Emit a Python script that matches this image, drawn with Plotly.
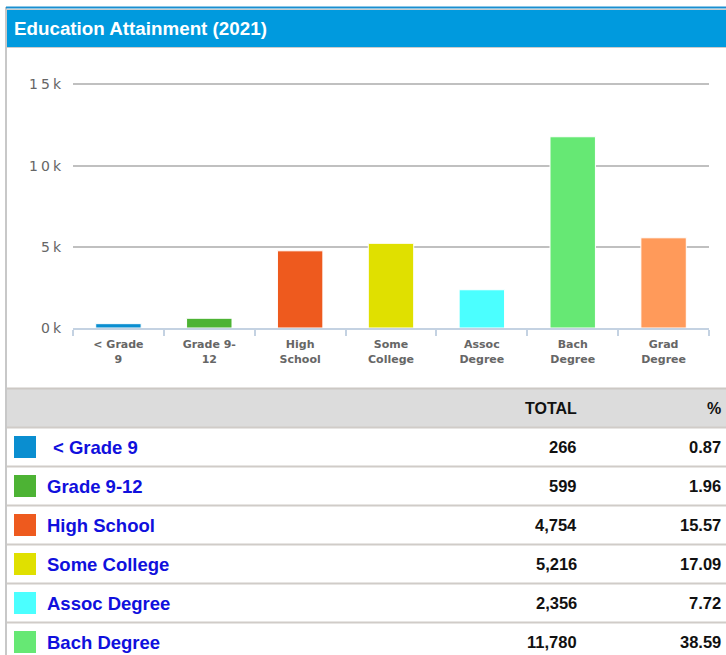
import plotly.graph_objects as go

W, H = 726, 655

# data
categories = ["< Grade 9", "Grade 9-12", "High School", "Some College",
              "Assoc Degree", "Bach Degree", "Grad Degree"]
axis_labels = ["< Grade<br>9", "Grade 9-<br>12", "High<br>School", "Some<br>College",
               "Assoc<br>Degree", "Bach<br>Degree", "Grad<br>Degree"]
totals = [266, 599, 4754, 5216, 2356, 11780, 5555]
percents = [0.87, 1.96, 15.57, 17.09, 7.72, 38.59, 18.20]
colors = ["#0A8ED0", "#4DB334", "#EE5A1E", "#E0E000", "#4BFFFF", "#66E874", "#FF9A5A"]
y_ticks = [0, 5000, 10000, 15000]
y_tick_text = ["0k", "5k", "10k", "15k"]


def px(x):
    return x / W


def py(y):
    return 1 - y / H


fig = go.Figure()
fig.add_trace(go.Bar(
    x=categories, y=totals,
    marker=dict(color=colors, line=dict(color="white", width=1)),
    width=0.5, hoverinfo="x+y",
))

shapes = []
annotations = []

# frame and title bar
shapes.append(dict(type="line", xref="paper", yref="paper", x0=px(6), x1=px(6),
                   y0=py(7), y1=0, line=dict(color="#C8C8C8", width=2)))
shapes.append(dict(type="line", xref="paper", yref="paper", x0=px(6), x1=1,
                   y0=py(7.5), y1=py(7.5), line=dict(color="#1A8FD0", width=2)))
shapes.append(dict(type="rect", xref="paper", yref="paper", x0=px(7), x1=1,
                   y0=py(48), y1=py(9), fillcolor="#CCCCCC", line=dict(width=0), layer="below"))
shapes.append(dict(type="rect", xref="paper", yref="paper", x0=px(7), x1=1,
                   y0=py(47), y1=py(10), fillcolor="#009ADE", line=dict(width=0), layer="below"))
annotations.append(dict(text="<b>Education Attainment (2021)</b>", xref="paper", yref="paper",
                        x=px(12), y=py(28), xanchor="left", yanchor="middle", showarrow=False,
                        font=dict(family="Liberation Sans, Arial", size=18.8, color="white")))

# table header
shapes.append(dict(type="rect", xref="paper", yref="paper", x0=px(7), x1=1,
                   y0=py(427), y1=py(388), fillcolor="#DCDCDC",
                   line=dict(width=0), layer="below"))
shapes.append(dict(type="line", xref="paper", yref="paper", x0=px(7), x1=1,
                   y0=py(388.5), y1=py(388.5), line=dict(color="#CCC8C4", width=2)))
hdr_font = dict(family="Liberation Sans, Arial", size=16, color="#111111")
annotations.append(dict(text="<b>TOTAL</b>", xref="paper", yref="paper", x=px(579), y=py(408),
                        xanchor="right", yanchor="middle", showarrow=False, font=hdr_font))
annotations.append(dict(text="<b>%</b>", xref="paper", yref="paper", x=px(723), y=py(408),
                        xanchor="right", yanchor="middle", showarrow=False, font=hdr_font))

# table rows
row_top = 427.5
row_h = 39
for i, name in enumerate(categories):
    top = row_top + i * row_h
    mid = top + row_h / 2
    shapes.append(dict(type="line", xref="paper", yref="paper", x0=px(7), x1=1,
                       y0=py(top), y1=py(top), line=dict(color="#D0CCC8", width=2)))
    shapes.append(dict(type="rect", xref="paper", yref="paper", x0=px(14), x1=px(36),
                       y0=py(mid + 11), y1=py(mid - 11), fillcolor=colors[i], line=dict(width=0)))
    lx = 45
    if name.startswith("<"):
        lx = 51
    annotations.append(dict(text="<b>" + name.replace("<", "&lt;") + "</b>", xref="paper",
                            yref="paper", x=px(lx), y=py(mid), xanchor="left", yanchor="middle",
                            showarrow=False,
                            font=dict(family="Liberation Sans, Arial", size=18.5, color="#1010DD")))
    annotations.append(dict(text="<b>" + f"{totals[i]:,}" + "</b>", xref="paper", yref="paper",
                            x=px(579), y=py(mid), xanchor="right", yanchor="middle",
                            showarrow=False,
                            font=dict(family="Liberation Sans, Arial", size=16.5, color="#111111")))
    annotations.append(dict(text="<b>" + f"{percents[i]:.2f}" + "</b>", xref="paper", yref="paper",
                            x=px(723), y=py(mid), xanchor="right", yanchor="middle",
                            showarrow=False,
                            font=dict(family="Liberation Sans, Arial", size=16.5, color="#111111")))

fig.update_layout(
    width=W, height=H, autosize=False,
    margin=dict(l=0, r=0, t=0, b=0, pad=0, autoexpand=False),
    paper_bgcolor="white", plot_bgcolor="white",
    showlegend=False,
    shapes=shapes, annotations=annotations,
    xaxis=dict(
        domain=[px(73), px(709)], automargin=False,
        tickmode="array", tickvals=categories, ticktext=axis_labels,
        ticks="outside", tickson="boundaries", ticklen=6, tickwidth=2, tickcolor="#C4D2E2",
        showline=True, linecolor="#C4D2E2", linewidth=2,
        showgrid=False, fixedrange=True, ticklabelstandoff=5,
        tickfont=dict(family="DejaVu Sans", size=11, color="#666666", weight="bold"),
    ),
    yaxis=dict(
        domain=[py(328), py(79.6)], range=[0, 15300], automargin=False,
        tickmode="array", tickvals=y_ticks, ticktext=y_tick_text,
        showgrid=True, gridcolor="#C0C0C0", gridwidth=2, zeroline=False,
        ticks="", ticklabelstandoff=8, fixedrange=True,
        tickfont=dict(family="DejaVu Sans", size=14, color="#666666"),
    ),
)

pin_js = (
    "document.documentElement.style.overflow='hidden';"
    "document.body.style.margin='0';document.body.style.overflow='hidden';"
    "var d=document.getElementById('{plot_id}');"
    "d.style.position='fixed';d.style.left='0px';d.style.top='0px';"
    "d.querySelectorAll('.ytick text').forEach(function(t){t.style.letterSpacing='3px';});"
)
fig.write_html("out.html", config={"displayModeBar": False}, post_script=pin_js)
